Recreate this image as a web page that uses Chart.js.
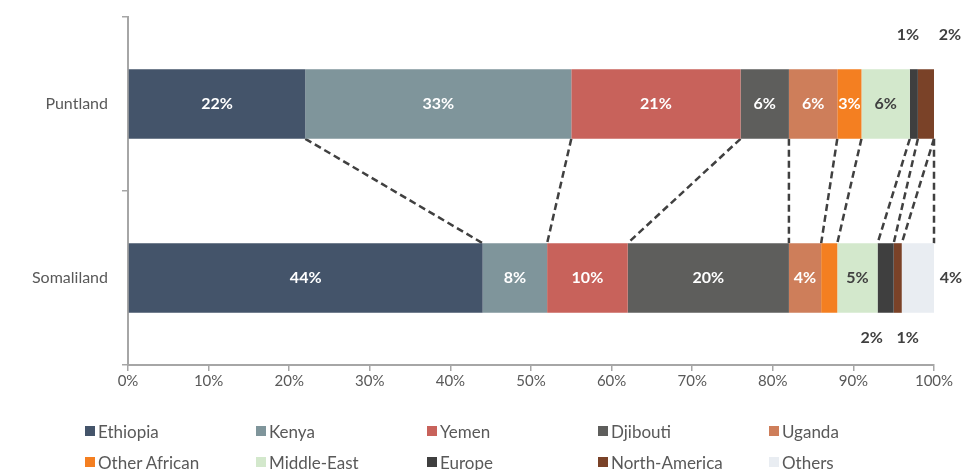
<!DOCTYPE html>
<html>
<head>
<meta charset="utf-8">
<script src="https://cdn.jsdelivr.net/npm/chart.js@4.4.1/dist/chart.umd.min.js"></script>
<style>
  html, body { margin: 0; padding: 0; background: #fff; }
  #wrap { position: relative; width: 965px; height: 470px; }
  #legend {
    position: absolute; left: 85px; top: 420px;
    display: grid; grid-template-columns: repeat(5, 171px); row-gap: 9px;
    font-family: Lato, 'Noto Sans', sans-serif; font-size: 17px; color: #595959;
  }
  #legend div { display: flex; align-items: center; white-space: nowrap; height: 22px; }
  #legend span { display: inline-block; width: 10px; height: 10px; margin-right: 3px; }
</style>
</head>
<body>
<div id="wrap">
  <canvas id="myChart" width="965" height="470"></canvas>
  <div id="legend"></div>
</div>
<script>
// Regioni (asse Y)
const regions = ['Puntland', 'Somaliland'];
// Provenienze
const origins = ['Ethiopia', 'Kenya', 'Yemen', 'Djibouti', 'Uganda', 'Other African', 'Middle-East', 'Europe', 'North-America', 'Others'];
// Valori in % per ogni provenienza: [Puntland, Somaliland]
const ethiopia = [22, 44];
const kenya = [33, 8];
const yemen = [21, 10];
const djibouti = [6, 20];
const uganda = [6, 4];
const otherAfrican = [3, 2];
const middleEast = [6, 5];
const europe = [1, 2];
const northAmerica = [2, 1];
const others = [0, 4];
const xTicks = [0, 10, 20, 30, 40, 50, 60, 70, 80, 90, 100];

const series = [ethiopia, kenya, yemen, djibouti, uganda, otherAfrican, middleEast, europe, northAmerica, others];
const colors = ['#44546A', '#7F959B', '#C8625B', '#5E5E5C', '#CE7E5A', '#F47F21', '#D3E8CC', '#3F3F3F', '#7A4228', '#E9EDF2'];
const labelColors = ['#fff', '#fff', '#fff', '#fff', '#fff', '#fff', '#404040', '#fff', '#fff', '#fff'];

// Etichette fuori dalla barra: [dataset, barra, posizione, spostamento x]
const outside = [
  [7, 0, 'above', -6], [8, 0, 'above', 24],
  [7, 1, 'below', -14], [8, 1, 'below', 10],
  [9, 1, 'right', 0]
];
const hidden = [[5, 1], [9, 0]];

const FONT = "Lato, 'Noto Sans', sans-serif";

// Linee tratteggiate tra le barre
const connectors = {
  id: 'connectors',
  beforeDatasetsDraw(chart) {
    const ctx = chart.ctx;
    const n = chart.data.datasets.length;
    ctx.save();
    ctx.strokeStyle = '#404040';
    ctx.lineWidth = 2.5;
    ctx.setLineDash([7, 4]);
    for (let i = 0; i < n; i++) {
      const a = chart.getDatasetMeta(i).data[0];
      const b = chart.getDatasetMeta(i).data[1];
      ctx.beginPath();
      ctx.moveTo(a.x, a.y + a.height / 2);
      ctx.lineTo(b.x, b.y - b.height / 2);
      ctx.stroke();
    }
    ctx.restore();
  }
};

// Etichette dei valori
const valueLabels = {
  id: 'valueLabels',
  afterDatasetsDraw(chart) {
    const ctx = chart.ctx;
    ctx.save();
    ctx.font = 'bold 16px ' + FONT;
    ctx.textAlign = 'center';
    ctx.textBaseline = 'middle';
    chart.data.datasets.forEach((ds, i) => {
      chart.getDatasetMeta(i).data.forEach((bar, j) => {
        const v = ds.data[j];
        if (!v || hidden.some(h => h[0] === i && h[1] === j)) return;
        const o = outside.find(r => r[0] === i && r[1] === j);
        const cx = (bar.x + bar.base) / 2;
        if (o) {
          ctx.fillStyle = '#404040';
          if (o[2] === 'above') ctx.fillText(v + '%', cx + o[3], bar.y - bar.height / 2 - 34);
          else if (o[2] === 'below') ctx.fillText(v + '%', cx + o[3], bar.y + bar.height / 2 + 25);
          else ctx.fillText(v + '%', bar.x + 17, bar.y);
        } else {
          ctx.fillStyle = labelColors[i];
          ctx.fillText(v + '%', cx, bar.y);
        }
      });
    });
    ctx.restore();
  }
};

Chart.defaults.font.family = FONT;
Chart.defaults.color = '#595959';

new Chart(document.getElementById('myChart'), {
  type: 'bar',
  data: {
    labels: regions,
    datasets: origins.map((name, i) => ({
      label: name,
      data: series[i],
      backgroundColor: colors[i],
      borderWidth: 0,
      categoryPercentage: 0.4,
      barPercentage: 1
    }))
  },
  options: {
    indexAxis: 'y',
    responsive: false,
    animation: false,
    layout: { padding: { top: 17, right: 31, bottom: 0, left: 0 } },
    plugins: { legend: { display: false }, tooltip: { enabled: false } },
    scales: {
      x: {
        stacked: true,
        min: 0, max: 100,
        afterBuildTicks: s => { s.ticks = xTicks.map(v => ({ value: v })); },
        ticks: { callback: v => v + '%', font: { size: 15 }, color: '#595959', padding: 1 },
        grid: { drawOnChartArea: false, tickLength: 6, color: '#A6A6A6', lineWidth: 1.5 },
        border: { color: '#A6A6A6', width: 2 },
        afterFit: s => { s.height = 105; }
      },
      y: {
        stacked: true,
        ticks: { font: { size: 16 }, color: '#595959', padding: 14 },
        grid: { offset: true, drawOnChartArea: false, tickLength: 6, color: '#A6A6A6', lineWidth: 1.5 },
        border: { color: '#A6A6A6', width: 2 },
        afterFit: s => { s.width = 128; s.paddingTop = 0; s.paddingBottom = 0; }
      }
    }
  },
  plugins: [connectors, valueLabels]
});

// Legenda HTML in griglia
document.getElementById('legend').innerHTML = origins.map((name, i) =>
  '<div><span style="background:' + colors[i] + '"></span>' + name + '</div>').join('');
</script>
</body>
</html>
